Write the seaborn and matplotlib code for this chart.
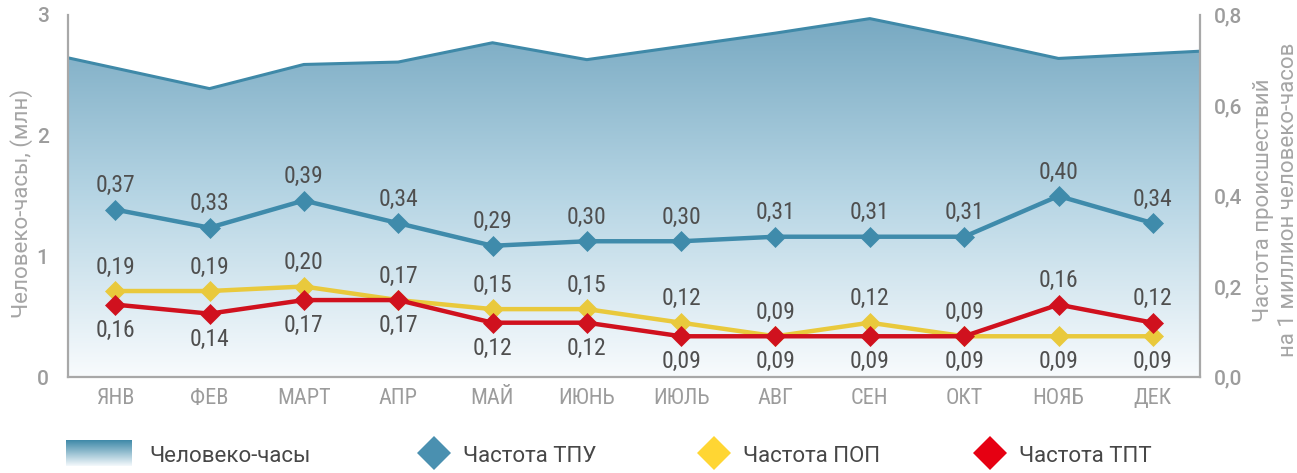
import numpy as np
import matplotlib
matplotlib.use("Agg")
import matplotlib.pyplot as plt
import seaborn as sns
from matplotlib.colors import LinearSegmentedColormap
from matplotlib.patches import Polygon
from matplotlib import font_manager as fm

# ---------------- data ----------------
months = ["ЯНВ", "ФЕВ", "МАРТ", "АПР", "МАЙ", "ИЮНЬ", "ИЮЛЬ", "АВГ", "СЕН", "ОКТ", "НОЯБ", "ДЕК"]
man_hours = [2.56, 2.39, 2.59, 2.61, 2.77, 2.63, 2.74, 2.85, 2.97, 2.81, 2.64, 2.68]
tpu = [0.37, 0.33, 0.39, 0.34, 0.29, 0.30, 0.30, 0.31, 0.31, 0.31, 0.40, 0.34]
pop = [0.19, 0.19, 0.20, 0.17, 0.15, 0.15, 0.12, 0.09, 0.12, 0.09, 0.09, 0.09]
tpt = [0.16, 0.14, 0.17, 0.17, 0.12, 0.12, 0.09, 0.09, 0.09, 0.09, 0.16, 0.12]
left_ticks = [0, 1, 2, 3]
right_ticks = [0.0, 0.2, 0.4, 0.6, 0.8]
legend_labels = ["Человеко-часы", "Частота ТПУ", "Частота ПОП", "Частота ТПТ"]
left_title = "Человеко-часы, (млн)"
right_title = "Частота происшествий\nна 1 миллион человеко-часов"

# ---------------- style ----------------
sns.set_style("white")
names = {f.name for f in fm.fontManager.ttflist}
cond = next((n for n in ["Roboto Condensed", "Liberation Sans Narrow", "Arial Narrow"] if n in names), "Roboto")
plt.rcParams["font.family"] = ["Roboto", "DejaVu Sans"]

C_AREA_TOP = "#76a8c1"
C_AREA_MID = "#b6d5e4"
C_AREA_BOT = "#f8fbfd"
C_AREA_EDGE = "#3f89a8"
C_TPU = "#3f8bab"
C_POP = "#e9c93c"
C_TPT = "#d0111e"
C_TPU_L = "#4a90b0"
C_POP_L = "#ffd633"
C_TPT_L = "#e60012"
C_AX = "#a8a8a8"
C_TICK = "#9c9c9c"
C_LBL = "#4f4f4f"

W, H = 1297, 473
fig = plt.figure(figsize=(W / 100, H / 100), dpi=100)
L, R, T, B = 68, 1200, 15, 377
ax = fig.add_axes([L / W, 1 - B / H, (R - L) / W, (B - T) / H])

xs = np.arange(len(months))
h = np.array(man_hours)
x_ext = np.concatenate([[-0.5], xs, [len(months) - 0.5]])
h_ext = np.concatenate([[h[0] - (h[1] - h[0]) / 2], h, [h[-1] + (h[-1] - h[-2]) / 2]])

cmap = LinearSegmentedColormap.from_list("g", [C_AREA_BOT, C_AREA_MID, C_AREA_TOP])
grad = np.linspace(0, 1, 256).reshape(-1, 1)
im = ax.imshow(grad, extent=[-0.5, len(months) - 0.5, 0, 3], origin="lower",
               aspect="auto", cmap=cmap, zorder=1, interpolation="bicubic")
poly = Polygon(np.column_stack([np.concatenate([x_ext, [x_ext[-1], x_ext[0]]]),
                                np.concatenate([h_ext, [0, 0]])]),
               closed=True, facecolor="none", edgecolor="none", transform=ax.transData)
ax.add_patch(poly)
im.set_clip_path(poly)
sns.lineplot(x=x_ext, y=h_ext, ax=ax, color=C_AREA_EDGE, linewidth=2.2, zorder=2)

ax.set_xlim(-0.5, len(months) - 0.5)
ax.set_ylim(0, 3)
ax.set_yticks(left_ticks)
ax.set_yticklabels([str(v) for v in left_ticks], fontsize=15, color=C_TICK, fontweight="medium")
ax.set_xticks(xs)
ax.set_xticklabels(months, fontsize=16, color=C_TICK, family=[cond, "DejaVu Sans"])
ax.set_xticks(np.arange(-0.5, len(months), 1), minor=True)
ax.tick_params(axis="x", which="major", length=0, pad=8)
ax.tick_params(axis="x", which="minor", direction="in", length=6, width=1, color=C_AX)
ax.tick_params(axis="y", length=0, pad=14)
for s in ["top", "right"]:
    ax.spines[s].set_visible(False)
for s in ["left", "bottom"]:
    ax.spines[s].set_color(C_AX)
    ax.spines[s].set_linewidth(1.6)
ax.set_ylabel(left_title, fontsize=16, color="#a5a5a5")
ax.yaxis.set_label_coords(-0.031, 0.48)

ax2 = ax.twinx()
ax2.set_ylim(0, 0.8)
for vals, col in [(tpu, C_TPU), (pop, C_POP), (tpt, C_TPT)]:
    sns.lineplot(x=xs, y=vals, ax=ax2, color=col, linewidth=3.2, marker="D",
                 markersize=10, markeredgecolor=col, markeredgewidth=0.5)
ax2.set_yticks(right_ticks)
ax2.set_yticklabels([f"{v:.1f}".replace(".", ",") for v in right_ticks],
                    fontsize=15, color=C_TICK, fontweight="medium")
ax2.tick_params(axis="y", length=0, pad=10)
for s in ["top", "left", "bottom"]:
    ax2.spines[s].set_visible(False)
ax2.spines["right"].set_color(C_AX)
ax2.spines["right"].set_linewidth(1.6)
fig.text(1276 / W, 1 - 200 / H, right_title, fontsize=16, color="#a5a5a5", rotation=90,
         ha="center", va="center", linespacing=1.2, multialignment="center")


def fmt(v):
    return f"{v:.2f}".replace(".", ",")


def label(x, y, above):
    ax2.annotate(fmt(y), (x, y), xytext=(0, 9 if above else -10), textcoords="offset points",
                 ha="center", va="bottom" if above else "top", fontsize=17,
                 color=C_LBL, family=[cond, "DejaVu Sans"], zorder=5)


for i in xs:
    label(i, tpu[i], True)
    tpt_above = tpt[i] > pop[i]
    label(i, pop[i], not tpt_above)
    label(i, tpt[i], tpt_above)

# ---------------- legend ----------------
lax = fig.add_axes([0, 0, 1, 1])
lax.axis("off")
lgrad = np.linspace(0, 1, 128).reshape(-1, 1)
lax.imshow(lgrad, extent=[66, 132, 466, 440], origin="upper", aspect="auto",
           cmap=LinearSegmentedColormap.from_list("lg", [C_AREA_EDGE, "#f4f9fc"]))
lax.set_xlim(0, W)
lax.set_ylim(H, 0)
lax.text(149, 456, legend_labels[0], fontsize=16, color="#474747", va="center")
for cx, col, lab in [(434, C_TPU_L, legend_labels[1]), (714, C_POP_L, legend_labels[2]),
                     (990, C_TPT_L, legend_labels[3])]:
    lax.plot([cx], [453], marker="D", markersize=17, color=col, markeredgewidth=0)
    lax.text(cx + 29, 456, lab, fontsize=16, color="#474747", va="center")

fig.savefig("out.png", dpi=100)
